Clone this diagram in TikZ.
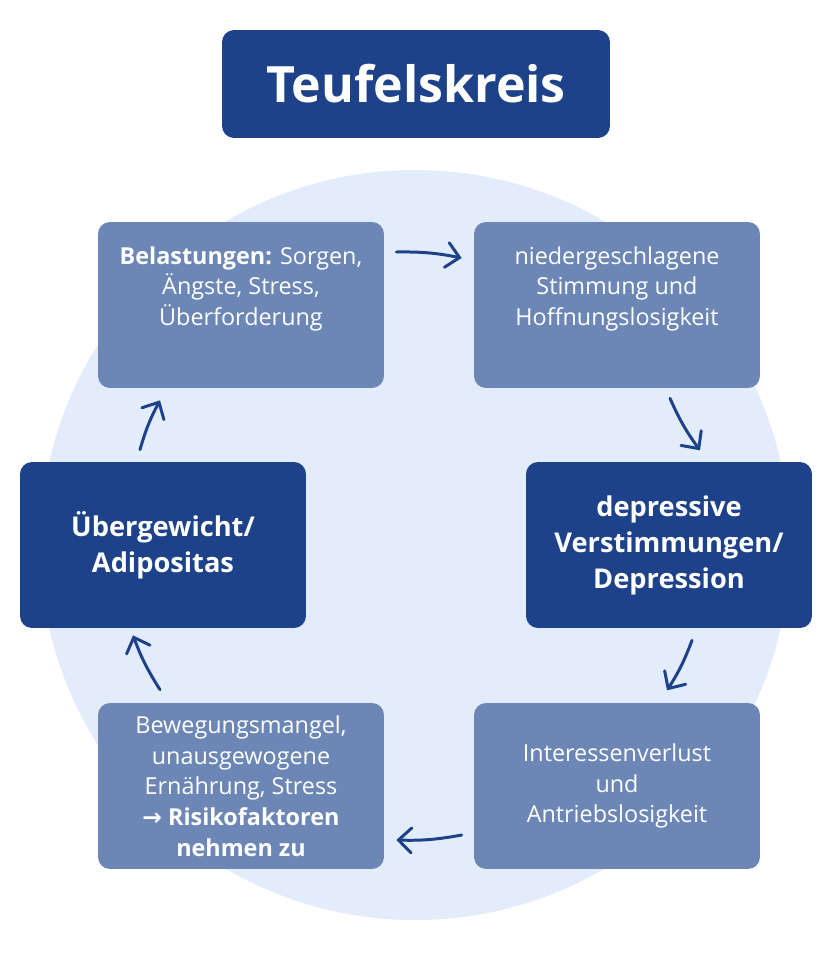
\documentclass[tikz,border=0pt]{standalone}
\usepackage{fontspec}
\setmainfont{Open Sans}
\newfontfamily\arrowfont{DejaVu Sans}
\usetikzlibrary{arrows.meta}
\definecolor{darkblue}{HTML}{1D4289}
\definecolor{midblue}{HTML}{6C87B5}
\definecolor{paleblue}{HTML}{E3ECFB}
\begin{document}
\begin{tikzpicture}[
  x=0.02cm, y=-0.02cm,
  box/.style={
     rectangle,
     rounded corners=0.24cm,
     fill=midblue,
     text=white,
     align=center,
     minimum width=5.72cm,
     minimum height=3.32cm,
     font=\fontsize{13.3}{17.5}\selectfont
  },
  darkbox/.style={
     box,
     fill=darkblue,
     font=\fontsize{15.5}{20.5}\selectfont\bfseries
  },
  flow/.style={
     draw=darkblue,
     line width=1.7pt,
     line cap=round,
     -{Straight Barb[length=2.6mm,width=5mm,line cap=round]}
  }
]
   % background and title
   \fill[white] (0,0) rectangle (832,960);
   \fill[paleblue] (415,545) circle (375);
   \node[box,fill=darkblue,minimum width=7.76cm,minimum height=2.16cm,
     font=\fontsize{28.5}{32}\selectfont\bfseries] (title) at (416,84) {Teufelskreis};

   % the six stations of the cycle
   \node[box] (stress) at (241,305) {\textbf{Belastungen:} Sorgen,\\ Ängste, Stress,\\ Überforderung\\[4pt]};
   \node[box] (mood) at (617,305) {niedergeschlagene\\ Stimmung und\\ Hoffnungslosigkeit\\[4pt]};
   \node[darkbox] (depr) at (669,545) {depressive\\ Verstimmungen/\\ Depression};
   \node[box] (drive) at (617,786) {Interessenverlust\\ und\\ Antriebslosigkeit};
   \node[box] (risk) at (241,786) {Bewegungsmangel,\\ unausgewogene\\ Ernährung, Stress\\ \textbf{{\arrowfont →} Risikofaktoren}\\ \textbf{nehmen zu}};
   \node[darkbox] (weight) at (163,545) {Übergewicht/\\ Adipositas};

   % the connecting arrows
   \draw[flow] ([shift={(12,-53)}]stress.east) to[bend left=6] ([shift={(-12,-47)}]mood.west);
   \draw[flow] ([shift={(53,10)}]mood.south) to[bend right=6] ([shift={(83,62)}]mood.south);
   \draw[flow] ([shift={(23,12)}]depr.south) to[bend left=6] ([shift={(-2,62)}]depr.south);
   \draw[flow] ([shift={(-12,49)}]drive.west) to[bend left=6] ([shift={(12,54)}]risk.east);
   \draw[flow] ([shift={(-81,-13)}]risk.north) to[bend left=6] ([shift={(-30,7)}]weight.south);
   \draw[flow] ([shift={(-23,-12)}]weight.north) to[bend left=6] ([shift={(-81,12)}]stress.south);
\end{tikzpicture}
\end{document}
